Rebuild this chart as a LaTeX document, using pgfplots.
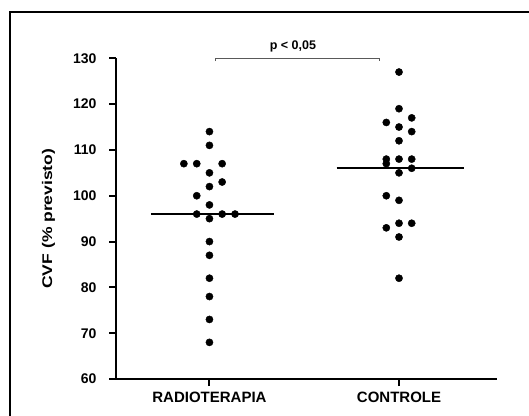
\documentclass[border=0pt]{standalone}
\usepackage{fontspec}
\setmainfont{Liberation Sans}
\usepackage{graphicx}
\usepackage{pgfplots}
\pgfplotsset{compat=1.18}
\begin{document}
\begin{tikzpicture}
\useasboundingbox (0,0) rectangle (529pt,-415pt);
\draw[line width=2pt] (10pt,-430pt) -- (10pt,-12pt) -- (540pt,-12pt);
\begin{axis}[
  at={(116pt,-379pt)}, anchor=south west,
  scale only axis, width=381pt, height=320.7pt,
  xmin=-0.493, xmax=1.517, ymin=60, ymax=130,
  axis x line*=bottom, axis y line*=left,
  axis line style={line width=2.5pt},
  xtick={0,1}, xticklabels={RADIOTERAPIA,CONTROLE},
  ytick={60,70,...,130},
  tick align=outside,
  tick style={line width=2pt, black},
  major tick length=7pt,
  /pgf/number format/assume math mode=true,
  yticklabel style={font=\bfseries\fontsize{14}{15}\selectfont, xshift=-9pt},
  xticklabel style={font=\bfseries\fontsize{15}{16}\selectfont, yshift=-2pt},
  ylabel={\scalebox{1.25}[1]{\bfseries\fontsize{14}{15}\selectfont CVF (\% previsto)}},
  ylabel style={at={(axis description cs:-0.177,0.5)}, anchor=center},
  clip=false,
]
\addplot[only marks, mark=*, mark size=3.6pt, black] coordinates {
 (0,114) (0,111) (-0.135,107) (-0.067,107) (0.067,107)
 (0,105) (0.067,103) (0,102) (-0.067,100) (0,98)
 (-0.067,96) (0.067,96) (0.135,96) (0,95) (0,90)
 (0,87) (0,82) (0,78) (0,73) (0,68)
};
\addplot[only marks, mark=*, mark size=3.6pt, black] coordinates {
 (1,127) (1,119) (1.067,117) (0.933,116) (1,115)
 (1.067,114) (1,112) (0.933,108) (1,108) (1.067,108)
 (0.933,107) (1.067,106) (1,105) (0.933,100) (1,99)
 (1,94) (1.067,94) (0.933,93) (1,91) (1,82)
};
\addplot[black, line width=1.7pt] coordinates {(-0.309,96) (0.340,96)};
\addplot[black, line width=1.7pt] coordinates {(0.671,106) (1.343,106)};
\draw[gray!70!black, line width=0.7pt] (axis cs:0.029,129.4) -- (axis cs:0.029,130) -- (axis cs:0.894,130) -- (axis cs:0.894,129.4);
\node[font=\bfseries\fontsize{12.5}{13}\selectfont] at (axis cs:0.44,132.6) {p < 0,05};
\end{axis}
\end{tikzpicture}
\end{document}
